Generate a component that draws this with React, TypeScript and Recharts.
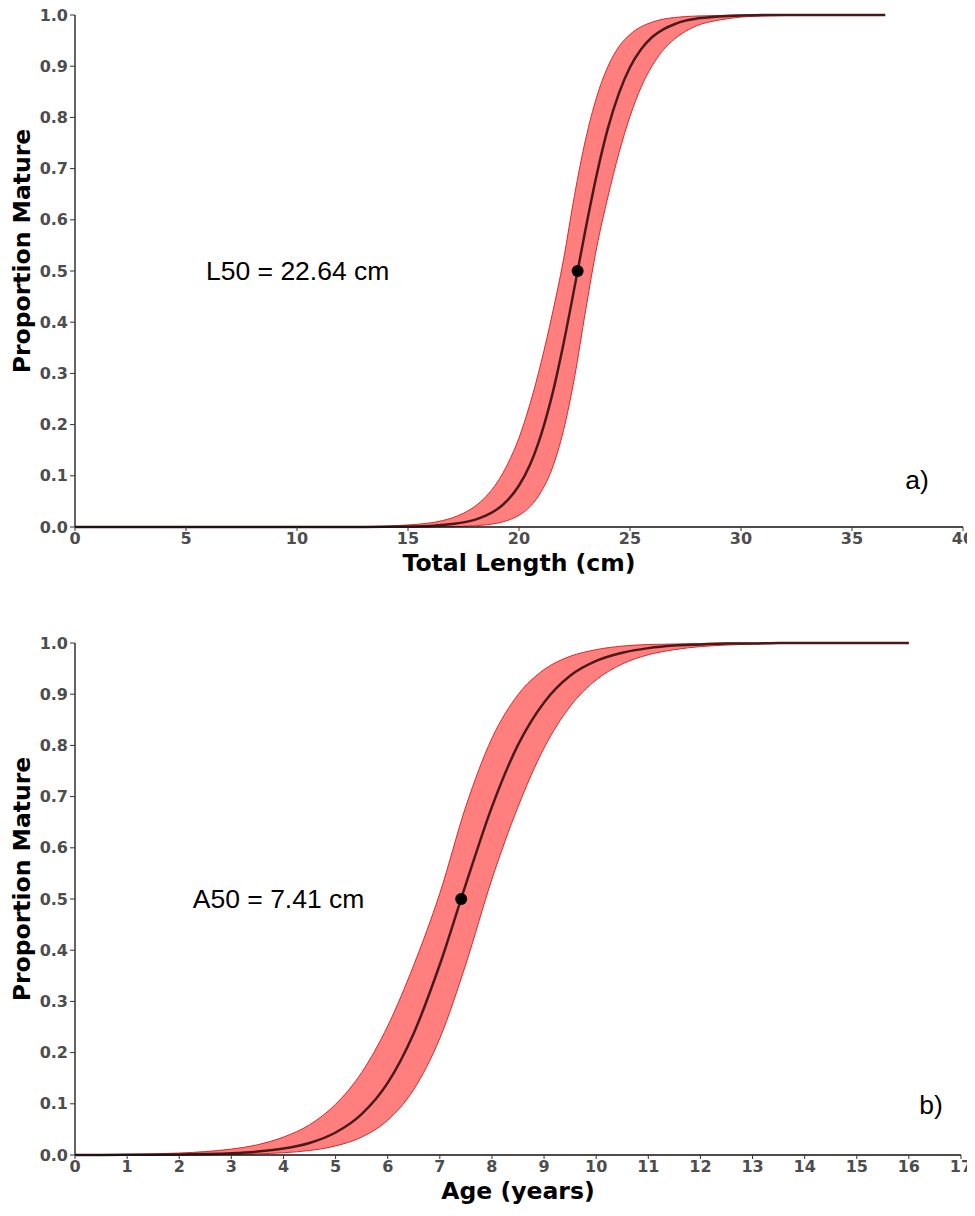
import { Area, ComposedChart, Line, ReferenceDot, XAxis, YAxis } from "recharts";

// panel a: maturity by total length
const lengthX = [0, 2, 4, 6, 8, 10, 11, 12, 13, 14, 15, 16, 16.5, 17, 17.5, 18, 18.5, 19, 19.5, 20, 20.5, 21, 21.5, 22, 22.5, 23, 23.5, 24, 24.5, 25, 25.5, 26, 26.5, 27, 27.5, 28, 29, 30, 31, 32, 33, 34, 35, 36, 36.5];
const lengthMedian = [0, 0, 0, 0, 0, 0, 0, 0, 0.0001, 0.0004, 0.001, 0.002, 0.004, 0.006, 0.009, 0.014, 0.022, 0.034, 0.053, 0.081, 0.122, 0.181, 0.259, 0.357, 0.468, 0.582, 0.688, 0.778, 0.847, 0.898, 0.933, 0.957, 0.972, 0.982, 0.989, 0.993, 0.997, 0.999, 1, 1, 1, 1, 1, 1, 1];
const lengthBandX = [12, 13, 14, 15, 16, 16.5, 17, 17.5, 18, 18.5, 19, 19.5, 20, 20.5, 21, 21.5, 22, 22.5, 23, 23.5, 24, 24.5, 25, 25.5, 26, 26.5, 27, 27.5, 28, 29, 30, 31, 32, 33];
const lengthUpper = [0.0003, 0.0007, 0.0016, 0.004, 0.008, 0.012, 0.018, 0.027, 0.04, 0.059, 0.086, 0.124, 0.174, 0.241, 0.322, 0.416, 0.521, 0.648, 0.757, 0.84, 0.899, 0.938, 0.962, 0.977, 0.986, 0.992, 0.995, 0.997, 0.998, 0.999, 1, 1, 1, 1];
const lengthLower = [0, 0, 0, 0.0001, 0.0002, 0.0004, 0.0007, 0.0013, 0.0023, 0.0041, 0.0073, 0.013, 0.023, 0.04, 0.069, 0.115, 0.188, 0.292, 0.423, 0.546, 0.644, 0.73, 0.802, 0.859, 0.901, 0.932, 0.953, 0.968, 0.979, 0.99, 0.996, 0.998, 0.999, 1];
const lengthTicks = [0, 5, 10, 15, 20, 25, 30, 35, 40];

// panel b: maturity by age
const ageX = [0, 0.5, 1, 1.5, 2, 2.5, 3, 3.5, 4, 4.5, 5, 5.5, 6, 6.5, 7, 7.5, 8, 8.5, 9, 9.5, 10, 10.5, 11, 11.5, 12, 12.5, 13, 13.5, 14, 15, 16];
const ageMedian = [0.0001, 0.0001, 0.0003, 0.0005, 0.001, 0.0019, 0.0035, 0.0067, 0.0126, 0.0235, 0.044, 0.08, 0.141, 0.238, 0.372, 0.529, 0.68, 0.801, 0.884, 0.936, 0.965, 0.981, 0.99, 0.995, 0.997, 0.999, 0.999, 1, 1, 1, 1];
const ageBandX = [0.5, 1, 1.5, 2, 2.5, 3, 3.5, 4, 4.5, 5, 5.5, 6, 6.5, 7, 7.5, 8, 8.5, 9, 9.5, 10, 10.5, 11, 11.5, 12, 12.5, 13, 13.5, 14];
const ageUpper = [0.0007, 0.0012, 0.0022, 0.0038, 0.0066, 0.0115, 0.02, 0.035, 0.059, 0.099, 0.161, 0.252, 0.371, 0.511, 0.681, 0.814, 0.899, 0.948, 0.974, 0.987, 0.994, 0.997, 0.998, 0.999, 1, 1, 1, 1];
const ageLower = [0, 0.0001, 0.0002, 0.0003, 0.0005, 0.0011, 0.0022, 0.0044, 0.0088, 0.0177, 0.035, 0.068, 0.128, 0.228, 0.373, 0.539, 0.68, 0.795, 0.876, 0.928, 0.959, 0.977, 0.987, 0.993, 0.996, 0.998, 0.999, 1];
const ageTicks = [0, 1, 2, 3, 4, 5, 6, 7, 8, 9, 10, 11, 12, 13, 14, 15, 16, 17];

const yTicks = [0, 0.1, 0.2, 0.3, 0.4, 0.5, 0.6, 0.7, 0.8, 0.9, 1];

const tickStyle = { fill: "#4d4d4d", fontSize: 16, fontWeight: "bold", fontFamily: "DejaVu Sans" };
const titleStyle = { fill: "#000", fontSize: 23.5, fontWeight: "bold", fontFamily: "DejaVu Sans" };
const noteStyle = { fill: "#000", fontSize: 26.5, fontFamily: "Liberation Sans" };

interface PanelProps {
  xs: number[];
  median: number[];
  bandX: number[];
  lower: number[];
  upper: number[];
  xTicks: number[];
  xMax: number;
  xTitle: string;
  fiftyX: number;
  note: string;
  noteX: number;
  tag: string;
  tagX: number;
  tagY: number;
  height: number;
  top: number;
  right: number;
}

function MaturityPanel(p: PanelProps) {
  const lineRows = p.xs.map((x, i) => ({ x, mid: p.median[i] }));
  const bandRows = p.bandX.map((x, i) => ({ x, band: [p.lower[i], p.upper[i]] }));

  return (
    <ComposedChart
      width={975}
      height={p.height}
      data={lineRows}
      margin={{ top: p.top, right: p.right, left: 0, bottom: p.height - p.top - 512 - 50 }}
    >
      <XAxis
        type="number"
        dataKey="x"
        domain={[0, p.xMax]}
        ticks={p.xTicks}
        interval={0}
        height={50}
        tick={tickStyle}
        tickSize={4}
        tickMargin={2}
        axisLine={{ stroke: "#111", strokeWidth: 1.3 }}
        tickLine={{ stroke: "#333" }}
        label={{ value: p.xTitle, position: "insideBottom", offset: 6, ...titleStyle }}
      />
      <YAxis
        type="number"
        domain={[0, 1]}
        ticks={yTicks}
        interval={0}
        width={75}
        tick={tickStyle}
        tickSize={5}
        tickMargin={2}
        tickFormatter={(v: number) => v.toFixed(1)}
        axisLine={{ stroke: "#111", strokeWidth: 1.3 }}
        tickLine={{ stroke: "#333" }}
        label={{
          value: "Proportion Mature",
          angle: -90,
          position: "insideLeft",
          offset: 22,
          dy: -20,
          style: { textAnchor: "middle" },
          ...titleStyle,
        }}
      />
      <Area
        type="monotone"
        data={bandRows}
        dataKey="band"
        fill="#ff0000"
        fillOpacity={0.5}
        stroke="#d42a2a"
        strokeWidth={1}
        isAnimationActive={false}
      />
      <Line
        type="monotone"
        dataKey="mid"
        stroke="#4a1a1a"
        strokeWidth={2.5}
        dot={false}
        isAnimationActive={false}
      />
      <ReferenceDot x={p.fiftyX} y={0.5} r={6} fill="#000" stroke="none" />
      <ReferenceDot
        x={p.noteX}
        y={0.5}
        r={0}
        fill="none"
        stroke="none"
        label={{ value: p.note, position: "right", offset: 0, ...noteStyle }}
      />
      <ReferenceDot
        x={p.tagX}
        y={p.tagY}
        r={0}
        fill="none"
        stroke="none"
        label={{ value: p.tag, position: "right", offset: 0, ...noteStyle }}
      />
    </ComposedChart>
  );
}

export default function App() {
  return (
    <div style={{ width: 975, height: 1216, margin: -8, background: "#fff", position: "relative" }}>
      <div style={{ position: "absolute", top: 0, left: 0 }}>
        <MaturityPanel
          xs={lengthX}
          median={lengthMedian}
          bandX={lengthBandX}
          lower={lengthLower}
          upper={lengthUpper}
          xTicks={lengthTicks}
          xMax={40}
          xTitle="Total Length (cm)"
          fiftyX={22.64}
          note="L50 = 22.64 cm"
          noteX={5.9}
          tag="a)"
          tagX={37.4}
          tagY={0.092}
          height={600}
          top={15}
          right={12}
        />
      </div>
      <div style={{ position: "absolute", top: 600, left: 0 }}>
        <MaturityPanel
          xs={ageX}
          median={ageMedian}
          bandX={ageBandX}
          lower={ageLower}
          upper={ageUpper}
          xTicks={ageTicks}
          xMax={17}
          xTitle="Age (years)"
          fiftyX={7.41}
          note="A50 = 7.41 cm"
          noteX={2.26}
          tag="b)"
          tagX={16.2}
          tagY={0.098}
          height={616}
          top={43}
          right={14}
        />
      </div>
    </div>
  );
}
